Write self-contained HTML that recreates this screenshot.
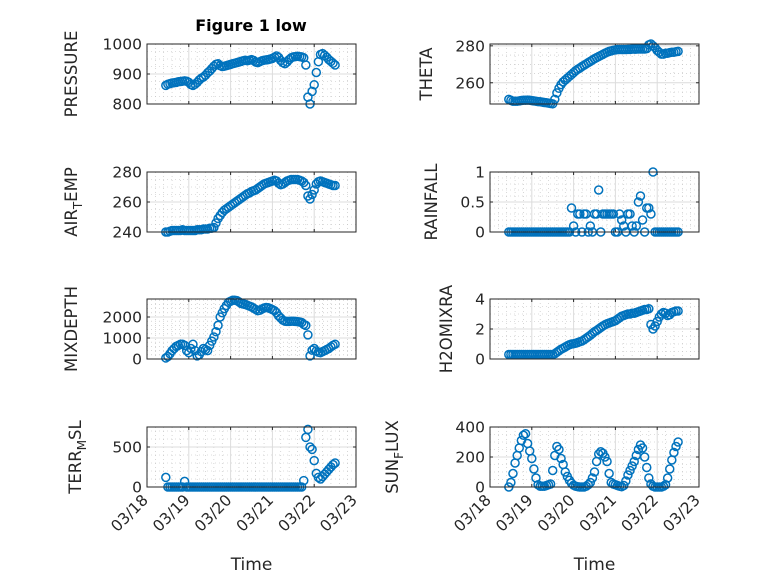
<!DOCTYPE html>
<html><head><meta charset="utf-8"><style>
html,body{margin:0;padding:0;background:#fff;}
svg{display:block;font-family:"DejaVu Sans","Liberation Sans",sans-serif;}
</style></head><body>
<svg id="fig" width="778" height="583" viewBox="0 0 778 583" xmlns="http://www.w3.org/2000/svg">
<rect x="0" y="0" width="778" height="583" fill="#fff"/>
<text x="251" y="31" text-anchor="middle" font-weight="bold" font-size="16" fill="#000">Figure 1 low</text>
</svg>
<script>
// days since 03/18
const times = [0.45,0.50,0.55,0.60,0.65,0.70,0.75,0.80,0.85,0.90,0.95,1.00,1.05,1.10,1.15,1.20,1.25,1.30,1.35,1.40,1.45,1.50,1.55,1.60,1.65,1.70,1.75,1.80,1.85,1.90,1.95,2.00,2.05,2.10,2.15,2.20,2.25,2.30,2.35,2.40,2.45,2.50,2.55,2.60,2.65,2.70,2.75,2.80,2.85,2.90,2.95,3.00,3.05,3.10,3.15,3.20,3.25,3.30,3.35,3.40,3.45,3.50,3.55,3.60,3.65,3.70,3.75,3.80,3.85,3.90,3.95,4.00,4.05,4.10,4.15,4.20,4.25,4.30,4.35,4.40,4.45,4.50];
const xTickLabels = ["03/18","03/19","03/20","03/21","03/22","03/23"];
const pressure = [862,866,868,870,871,872,874,875,876,877,876,872,865,862,866,872,880,886,890,896,904,910,918,926,932,934,928,925,926,928,930,932,934,936,938,940,942,944,946,944,946,948,945,940,938,941,944,946,947,948,950,952,956,960,955,945,938,934,940,948,954,957,958,959,958,957,954,930,823,800,842,864,905,941,965,968,962,956,948,942,936,930];
const theta = [251,250.5,250,250,250,250.2,250.4,250.5,250.5,250.6,250.5,250.3,250.2,250,249.8,249.7,249.5,249.3,249.2,249,248.8,248.6,251,254.5,257,259,260.5,261.5,262.5,263.5,264.5,265.5,266.5,267.3,268,268.8,269.5,270.2,270.9,271.6,272.3,273,273.6,274.2,274.8,275.4,276,276.5,277,277.3,277.6,277.8,278,278,278,278,278,278.1,278.1,278.2,278.2,278.2,278.3,278.3,278.3,278.3,278.5,280.5,281,280,279,277.5,276.5,275.5,275.5,276,276,276.3,276.5,276.5,276.8,277];
const airTemp = [240,240,240.5,241,241,241,241,241,241.5,241,241,241,241,241,241,241.5,241.5,241.5,242,242,242,242.5,242.5,243,246,249,251,253,254.5,255.5,256.5,257.5,258.5,259.5,260.5,261.5,262.5,263.5,264.5,265.5,266,267,267.5,268,269,270,271,272,272.5,273,273.5,274,274.5,274,272.5,271.5,272,273,274,274.5,275,275,275,275,274.5,274,273,271,264,262,265,268,272,273.5,274,273.5,273,272.5,272,271.5,271,271];
const rainfall = [0,0,0,0,0,0,0,0,0,0,0,0,0,0,0,0,0,0,0,0,0,0,0,0,0,0,0,0,0,0,0.4,0.1,0,0.3,0.3,0,0.3,0.3,0,0.1,0,0.3,0.3,0.7,0,0.3,0.3,0.3,0.3,0.3,0.3,0,0,0.3,0.2,0.1,0,0.3,0.3,0.1,0,0.1,0.5,0.6,0.2,0,0.4,0.4,0.3,1.0,0,0,0,0,0,0,0,0,0,0,0,0];
const mixDepth = [50,120,250,400,500,600,650,700,700,650,400,300,500,700,400,150,200,350,500,450,400,650,850,1050,1300,1600,2000,2200,2400,2550,2700,2750,2800,2800,2780,2720,2650,2620,2600,2560,2520,2480,2420,2360,2300,2320,2380,2430,2450,2440,2400,2350,2300,2200,2050,1950,1850,1800,1790,1790,1800,1800,1790,1780,1760,1740,1650,1600,1150,150,420,500,380,320,300,350,400,450,500,580,650,700];
const h2oMix = [0.3,0.3,0.3,0.3,0.3,0.3,0.3,0.3,0.3,0.3,0.3,0.3,0.3,0.3,0.3,0.3,0.3,0.3,0.3,0.3,0.3,0.3,0.35,0.45,0.55,0.65,0.72,0.8,0.88,0.95,1.0,1.02,1.05,1.1,1.15,1.2,1.28,1.38,1.48,1.58,1.7,1.82,1.9,2.0,2.1,2.2,2.28,2.35,2.4,2.45,2.5,2.55,2.65,2.75,2.85,2.9,2.95,3.0,3.0,3.05,3.05,3.1,3.15,3.2,3.25,3.3,3.3,3.35,2.3,2.0,2.2,2.5,2.8,3.0,3.1,3.05,2.9,2.95,3.1,3.15,3.2,3.2];
const terrMsl = [120,0,0,0,0,0,0,0,0,70,0,0,0,0,0,0,0,0,0,0,0,0,0,0,0,0,0,0,0,0,0,0,0,0,0,0,0,0,0,0,0,0,0,0,0,0,0,0,0,0,0,0,0,0,0,0,0,0,0,0,0,0,0,0,0,0,80,620,720,500,470,330,170,120,100,130,160,190,220,250,280,300];
const sunFlux = [0,30,90,160,210,260,310,345,355,290,240,190,120,60,15,5,5,5,10,15,20,110,210,270,250,190,150,100,70,45,25,12,5,2,0,0,0,5,15,30,60,100,170,220,235,225,200,170,90,30,20,15,10,5,2,10,40,80,110,140,170,210,250,280,260,200,130,60,20,5,0,0,0,0,5,15,60,120,180,230,270,300];

const yTicksPressure = [800,900,1000];
const yTicksTheta = [260,280];
const yTicksAir = [240,260,280];
const yTicksRain = [0,0.5,1];
const yTicksMix = [0,1000,2000];
const yTicksH2o = [0,2,4];
const yTicksTerr = [0,500];
const yTicksSun = [0,200,400];

const NS = "http://www.w3.org/2000/svg";
const svg = document.getElementById('fig');
function mk(tag, attrs, parent){
  const e = document.createElementNS(NS, tag);
  for (const k in attrs) e.setAttribute(k, attrs[k]);
  (parent||svg).appendChild(e);
  return e;
}
const W = 209, H = 60, XL = 147, XR = 490;
const panels = [
 {id:'pressure', x0:XL, y0:44, ymin:800, ymax:1000, ticks:yTicksPressure, minor:25, data:pressure, lab:['PRESSURE'], lx:77, bottom:false},
 {id:'theta', x0:XR, y0:44, ymin:248.5, ymax:281, ticks:yTicksTheta, minor:5, data:theta, lab:['THETA'], lx:432, bottom:false},
 {id:'air-temp', x0:XL, y0:172, ymin:240, ymax:280, ticks:yTicksAir, minor:5, data:airTemp, lab:['AIR','T','EMP'], lx:77, bottom:false},
 {id:'rainfall', x0:XR, y0:172, ymin:0, ymax:1, ticks:yTicksRain, minor:0.1, data:rainfall, lab:['RAINFALL'], lx:437, bottom:false},
 {id:'mixdepth', x0:XL, y0:299, ymin:0, ymax:2857, ticks:yTicksMix, minor:200, data:mixDepth, lab:['MIXDEPTH'], lx:77, bottom:false},
 {id:'h2omixra', x0:XR, y0:299, ymin:0, ymax:4, ticks:yTicksH2o, minor:0.5, data:h2oMix, lab:['H2OMIXRA'], lx:452, bottom:false},
 {id:'terr-msl', x0:XL, y0:427, ymin:0, ymax:750, ticks:yTicksTerr, minor:100, data:terrMsl, lab:['TERR','M','SL'], lx:81, bottom:true},
 {id:'sun-flux', x0:XR, y0:427, ymin:0, ymax:400, ticks:yTicksSun, minor:50, data:sunFlux, lab:['SUN','F','LUX'], lx:398, bottom:true}
];
panels.forEach(p=>{
  const g = mk('g', {});
  
  
  const xs = t => p.x0 + t/5*W;
  const ys = v => p.y0 + H - (v - p.ymin)/(p.ymax - p.ymin)*H;
  mk('rect', {x:p.x0, y:p.y0, width:W, height:H, fill:'#fff'}, g);
  for (let d=0; d<5; d++) for (let k=1;k<5;k++){
    const x = xs(d + k/5);
    mk('line',{x1:x,y1:p.y0,x2:x,y2:p.y0+H,stroke:'#bdbdbd','stroke-width':0.6,'stroke-dasharray':'1 3'},g);
  }
  for (let v=Math.ceil(p.ymin/p.minor)*p.minor; v<=p.ymax+1e-9; v+=p.minor){
    if (p.ticks.some(t=>Math.abs(t-v)<1e-6)) continue;
    const y = ys(v);
    mk('line',{x1:p.x0,y1:y,x2:p.x0+W,y2:y,stroke:'#bdbdbd','stroke-width':0.6,'stroke-dasharray':'1 3'},g);
  }
  for (let d=1; d<5; d++){
    const x = xs(d);
    mk('line',{x1:x,y1:p.y0,x2:x,y2:p.y0+H,stroke:'#dcdcdc','stroke-width':1},g);
  }
  p.ticks.forEach(v=>{
    const y = ys(v);
    mk('line',{x1:p.x0,y1:y,x2:p.x0+W,y2:y,stroke:'#dcdcdc','stroke-width':1},g);
    mk('line',{x1:p.x0,y1:y,x2:p.x0+3,y2:y,stroke:'#262626','stroke-width':1},g);
    mk('line',{x1:p.x0+W,y1:y,x2:p.x0+W-3,y2:y,stroke:'#262626','stroke-width':1},g);
    const t = mk('text',{x:p.x0-5,y:y+5.5,'text-anchor':'end','font-size':15.5,fill:'#262626'},g);
    
    
    t.textContent = String(v);
  });
  for (let d=0; d<=5; d++){
    const x = xs(d);
    mk('line',{x1:x,y1:p.y0+H,x2:x,y2:p.y0+H-3,stroke:'#262626','stroke-width':1},g);
    mk('line',{x1:x,y1:p.y0,x2:x,y2:p.y0+3,stroke:'#262626','stroke-width':1},g);
    if (p.bottom){
      const t = mk('text',{x:x+2,y:p.y0+H+14,'text-anchor':'end','font-size':15.5,fill:'#262626',transform:`rotate(-45 ${x+2} ${p.y0+H+14})`},g);
      
      
      t.textContent = xTickLabels[d];
    }
  }
  const n = Math.min(times.length, p.data.length);
  for (let i=0;i<n;i++){
    const c = mk('circle',{cx:xs(times[i]).toFixed(2),cy:ys(p.data[i]).toFixed(2),r:4,fill:'none',stroke:'#0072BD','stroke-width':1.5},g);
    
    
  }
  mk('rect',{x:p.x0,y:p.y0,width:W,height:H,fill:'none',stroke:'#262626','stroke-width':1},g);
  const cy = p.y0 + H/2;
  const lab = mk('text',{x:p.lx,y:cy,'text-anchor':'middle','font-size':16.5,fill:'#262626',transform:`rotate(-90 ${p.lx} ${cy})`},g);
  
  
  if (p.lab.length===1){ lab.textContent = p.lab[0]; }
  else {
    const a = mk('tspan',{},lab); a.textContent = p.lab[0];
    const b = mk('tspan',{dy:5,'font-size':12},lab); b.textContent = p.lab[1];
    const c = mk('tspan',{dy:-5},lab); c.textContent = p.lab[2];
  }
  if (p.bottom){
    const tl = mk('text',{x:p.x0+W/2,y:570,'text-anchor':'middle','font-size':17,fill:'#262626'},g);
    
    
    tl.textContent = 'Time';
  }
});
</script>
</body></html>
